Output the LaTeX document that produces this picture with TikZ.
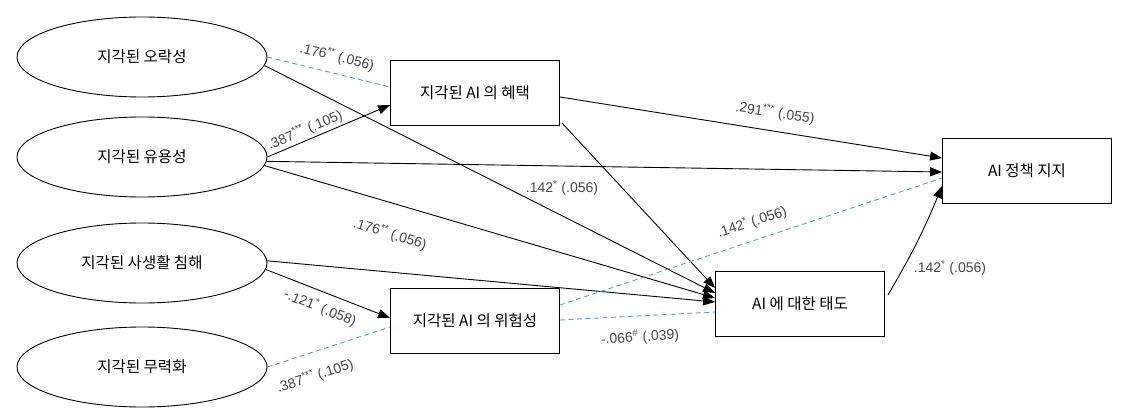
\documentclass[tikz,border=0pt]{standalone}
\usepackage{fontspec}
\setmainfont{Liberation Sans}
\newfontfamily\kr{Noto Sans CJK KR}
\usetikzlibrary{shapes.geometric,arrows.meta,calc}
\definecolor{dashblue}{RGB}{91,155,213}
\definecolor{lblgray}{RGB}{70,70,70}
\begin{document}
\begin{tikzpicture}[x=1pt,y=-1pt,
  ell/.style={ellipse,draw,line width=0.9pt,minimum width=250pt,minimum height=80pt,inner sep=0pt,font=\kr\fontsize{15.5}{18}\selectfont},
  box/.style={rectangle,draw,line width=0.9pt,minimum width=169pt,minimum height=65pt,font=\kr\fontsize{15.5}{18}\selectfont},
  arr/.style={line width=0.9pt,-{Triangle[length=12pt,width=9pt]}},
  dsh/.style={dashblue,line width=0.9pt,dash pattern=on 5pt off 3.5pt},
  lbl/.style={font=\fontsize{14}{16}\selectfont,text=lblgray,inner sep=0pt}]
\useasboundingbox (0,0) rectangle (1127,417);
\node[ell] (E1) at (142,57) {지각된 오락성};
\node[ell] (E2) at (142,157) {지각된 유용성};
\node[ell] (E3) at (142,263) {지각된 사생활 침해};
\node[ell] (E4) at (142,367) {지각된 무력화};
\node[box] (B1) at (475,93) {지각된 AI 의 혜택};
\node[box] (B2) at (475,321) {지각된 AI 의 위험성};
\node[box] (B3) at (800,304) {AI 에 대한 태도};
\node[box] (B4) at (1027,171) {AI 정책 지지};
\draw[dsh] (E1.east) -- ($(B1.west)+(0,-6)$);
\draw[arr] (E1.-4) -- ($(B3.west)+(0,-11)$);
\draw[arr] (E2.east) -- ($(B1.west)+(0,12)$);
\draw[arr] (E2.-2) -- ($(B4.west)+(0,1)$);
\draw[arr] (E2.-4) -- ($(B3.west)+(0,-6)$);
\draw[arr] (E3.1) -- ($(B3.west)+(0,-2)$);
\draw[arr] (E3.-3) -- ($(B2.west)+(0,-3)$);
\draw[dsh] (E4.east) -- ($(B2.west)+(0,6)$);
\draw[arr] ($(B1.east)+(0,4)$) -- ($(B4.west)+(0,-13)$);
\draw[arr] ($(B1.south east)+(2,-3)$) -- ($(B3.west)+(0,-16)$);
\draw[dsh] ($(B2.east)+(0,-16)$) -- ($(B4.west)+(0,7)$);
\draw[dsh] ($(B2.east)+(0,-1)$) -- ($(B3.west)+(0,8)$);
\draw[arr] ($(B3.east)+(3,-9)$) to[bend right=4] ($(B4.west)+(0,15)$);
\node[lbl,rotate=-14] (L1) at (337,57) {.176\textsuperscript{**} (.056)};
\node[lbl,rotate=23] (L2) at (305,130) {.387\textsuperscript{***} (.105)};
\node[lbl] (L3) at (562,188) {.142\textsuperscript{*} (.056)};
\node[lbl,rotate=-17] (L4) at (390,234) {.176\textsuperscript{**} (.056)};
\node[lbl,rotate=-22] (L5) at (320,308) {-.121\textsuperscript{*} (.058)};
\node[lbl,rotate=18] (L6) at (315,376) {.387\textsuperscript{***} (.105)};
\node[lbl,rotate=-9] (L7) at (775,113) {.291\textsuperscript{***} (.055)};
\node[lbl,rotate=18] (L8) at (752,222) {.142\textsuperscript{*} (.056)};
\node[lbl,rotate=4] (L9) at (640,337) {-.066\textsuperscript{\#} (.039)};
\node[lbl] (L10) at (950,268) {.142\textsuperscript{*} (.056)};
\end{tikzpicture}
\end{document}
